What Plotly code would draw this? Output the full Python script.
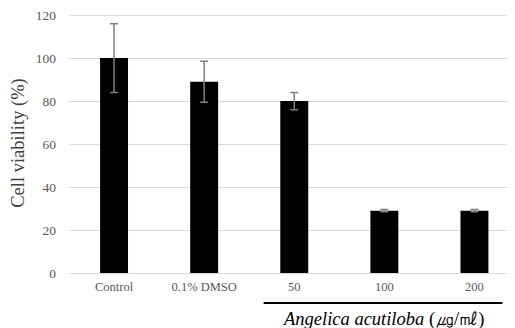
import plotly.graph_objects as go

categories = ["Control", "0.1% DMSO", "50", "100", "200"]
viability = [100, 89, 80, 29, 29]
errors = [16, 9.5, 4, 0.5, 0.5]
y_ticks = [0, 20, 40, 60, 80, 100, 120]

serif = "Liberation Serif, DejaVu Serif, serif"

fig = go.Figure()
fig.add_trace(go.Bar(
    x=categories, y=viability,
    marker=dict(color="black", line=dict(width=0)),
    width=0.31,
    error_y=dict(type="data", array=errors, visible=True, color="#808080", thickness=1.5, width=4),
))

# page body has an 8px margin, so the figure is offset by 8px
fig.update_layout(
    width=507, height=320,
    margin=dict(l=61, r=0, t=5, b=55),
    plot_bgcolor="white", paper_bgcolor="white",
    showlegend=False,
    font=dict(family=serif),
    xaxis=dict(
        range=[-0.5, 4.45],
        showgrid=False, showline=False, zeroline=False,
        tickfont=dict(size=12.5, color="#595959", family=serif),
        ticks="", ticklabelstandoff=4,
    ),
    yaxis=dict(
        range=[0, 121], tickvals=y_ticks,
        showgrid=True, gridcolor="#d9d9d9", gridwidth=1,
        zeroline=True, zerolinecolor="#d9d9d9", zerolinewidth=1,
        showline=False,
        tickfont=dict(size=13.5, color="#595959", family=serif),
        ticklabelstandoff=12, ticklabeloverflow="allow",
        title=dict(text="Cell viability (%)", font=dict(size=18.5, color="#404040", family=serif), standoff=6),
    ),
)

fig.add_shape(type="line", xref="x", yref="paper",
              x0=1.66, x1=4.31, y0=-0.115, y1=-0.115,
              line=dict(color="black", width=2))
fig.add_annotation(xref="x", yref="paper", x=2.99, y=-0.179,
                   text="<i>Angelica acutiloba</i> (㎍/㎖)", showarrow=False,
                   font=dict(size=18.5, color="black", family=serif),
                   yanchor="middle", xanchor="center")

fig.write_html("out.html")
